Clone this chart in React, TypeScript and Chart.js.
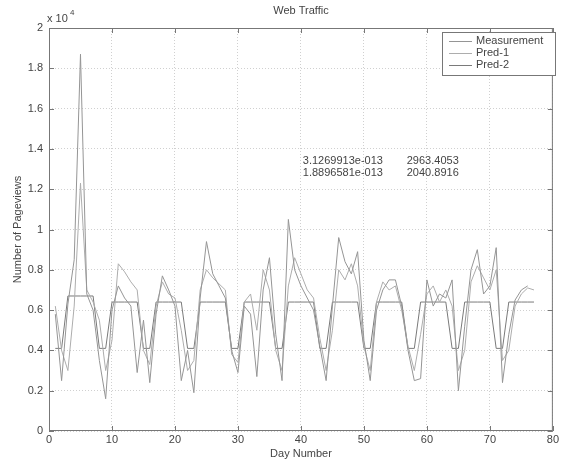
import { useEffect, useRef } from "react";
import { Chart, registerables } from "chart.js";

Chart.register(...registerables);

// ---- data (units of 10^4 page views) ----
const dayNumbers = [
  1, 2, 3, 4, 5, 6, 7, 8, 9, 10, 11, 12, 13, 14, 15, 16, 17, 18, 19, 20,
  21, 22, 23, 24, 25, 26, 27, 28, 29, 30, 31, 32, 33, 34, 35, 36, 37, 38, 39, 40,
  41, 42, 43, 44, 45, 46, 47, 48, 49, 50, 51, 52, 53, 54, 55, 56, 57, 58, 59, 60,
  61, 62, 63, 64, 65, 66, 67, 68, 69, 70, 71, 72, 73, 74, 75, 76, 77,
];

const measurement = [
  0.58, 0.25, 0.63, 0.85, 1.87, 0.68, 0.6, 0.35, 0.16, 0.6,
  0.72, 0.66, 0.62, 0.29, 0.55, 0.24, 0.58, 0.77, 0.7, 0.62,
  0.25, 0.4, 0.19, 0.66, 0.94, 0.78, 0.72, 0.66, 0.4, 0.29,
  0.62, 0.58, 0.27, 0.7, 0.86, 0.48, 0.25, 1.05, 0.8, 0.72,
  0.66, 0.6, 0.42, 0.25, 0.62, 0.96, 0.84, 0.78, 0.89, 0.45,
  0.25, 0.6, 0.7, 0.75, 0.75, 0.62, 0.4, 0.25, 0.26, 0.75,
  0.62, 0.68, 0.66, 0.75, 0.2, 0.52, 0.8, 0.9, 0.68, 0.72,
  0.91, 0.24, 0.48, 0.65, 0.7, 0.72,
];

const pred1 = [
  0.62, 0.4, 0.3, 0.62, 1.23, 0.7, 0.64, 0.55, 0.3, 0.45,
  0.83, 0.79, 0.74, 0.7, 0.4, 0.33, 0.62, 0.74, 0.68, 0.66,
  0.5, 0.3, 0.35, 0.7, 0.8, 0.76, 0.73, 0.7, 0.38, 0.34,
  0.64, 0.68, 0.5, 0.8, 0.7, 0.4, 0.3, 0.72, 0.86, 0.78,
  0.7, 0.66, 0.46, 0.3, 0.5, 0.8, 0.75, 0.83, 0.72, 0.42,
  0.3, 0.64, 0.74, 0.7, 0.72, 0.6, 0.42, 0.3, 0.48, 0.68,
  0.72, 0.64, 0.7, 0.62, 0.3, 0.4, 0.74, 0.82, 0.76, 0.7,
  0.8, 0.35, 0.4, 0.62, 0.68, 0.71, 0.7,
];

const pred2 = [
  0.41, 0.41, 0.67, 0.67, 0.67, 0.67, 0.67, 0.41, 0.41, 0.64,
  0.64, 0.64, 0.64, 0.64, 0.41, 0.41, 0.64, 0.64, 0.64, 0.64,
  0.64, 0.41, 0.41, 0.64, 0.64, 0.64, 0.64, 0.64, 0.41, 0.41,
  0.64, 0.64, 0.64, 0.64, 0.64, 0.41, 0.41, 0.64, 0.64, 0.64,
  0.64, 0.64, 0.41, 0.41, 0.64, 0.64, 0.64, 0.64, 0.64, 0.41,
  0.41, 0.64, 0.64, 0.64, 0.64, 0.64, 0.41, 0.41, 0.64, 0.64,
  0.64, 0.64, 0.64, 0.41, 0.41, 0.64, 0.64, 0.64, 0.64, 0.64,
  0.41, 0.41, 0.64, 0.64, 0.64, 0.64, 0.64,
];

const xTicks = [0, 10, 20, 30, 40, 50, 60, 70, 80];
const yTicks = [0, 0.2, 0.4, 0.6, 0.8, 1, 1.2, 1.4, 1.6, 1.8, 2];
const yTickLabels = ["0", "0.2", "0.4", "0.6", "0.8", "1", "1.2", "1.4", "1.6", "1.8", "2"];

const seriesNames = ["Measurement", "Pred-1", "Pred-2"];
const seriesColors = ["#959595", "#adadad", "#7a7a7a"];

const titleText = "Web Traffic";
const xTitle = "Day Number";
const yTitle = "Number of Pageviews";
const annotationRows = [
  ["3.1269913e-013", "2963.4053"],
  ["1.8896581e-013", "2040.8916"],
];

const FONT = '"Liberation Sans", Arial, sans-serif';
const TEXT = "#444";

const overlay = {
  id: "overlay",
  afterDraw(chart: any) {
    const { ctx, chartArea: a, scales } = chart;
    const xs = scales.x;
    const ys = scales.y;
    ctx.save();
    // frame
    ctx.strokeStyle = "#777";
    ctx.lineWidth = 1;
    ctx.strokeRect(a.left + 0.5, a.top + 0.5, a.right - a.left - 1, a.bottom - a.top - 1);
    // inward ticks
    ctx.beginPath();
    for (const v of xTicks) {
      const px = Math.round(xs.getPixelForValue(v)) + 0.5;
      ctx.moveTo(px, a.bottom);
      ctx.lineTo(px, a.bottom - 5);
      ctx.moveTo(px, a.top);
      ctx.lineTo(px, a.top + 5);
    }
    for (const v of yTicks) {
      const py = Math.round(ys.getPixelForValue(v)) + 0.5;
      ctx.moveTo(a.left, py);
      ctx.lineTo(a.left + 5, py);
      ctx.moveTo(a.right, py);
      ctx.lineTo(a.right - 5, py);
    }
    ctx.stroke();

    // title
    ctx.fillStyle = TEXT;
    ctx.font = `11px ${FONT}`;
    ctx.textAlign = "center";
    ctx.textBaseline = "middle";
    ctx.fillText(titleText, (a.left + a.right) / 2, 11);

    // exponent
    ctx.textAlign = "left";
    ctx.fillText("x 10", a.left - 2, 19);
    ctx.font = `8px ${FONT}`;
    ctx.fillText("4", a.left + 21, 13);

    // annotation text
    ctx.font = `11px ${FONT}`;
    const ax = xs.getPixelForValue(40.3);
    const ax2 = xs.getPixelForValue(56.8);
    annotationRows.forEach((row, i) => {
      const py = ys.getPixelForValue(1.34) + i * 11.5;
      ctx.fillText(row[0], ax, py);
      ctx.fillText(row[1], ax2, py);
    });

    // legend
    const lx = 442, ly = 32, lw = 114, lh = 44;
    ctx.fillStyle = "#fff";
    ctx.fillRect(lx, ly, lw, lh);
    ctx.strokeStyle = "#777";
    ctx.strokeRect(lx + 0.5, ly + 0.5, lw - 1, lh - 1);
    seriesNames.forEach((name, i) => {
      const cy = ly + 9 + i * 12;
      ctx.strokeStyle = seriesColors[i];
      ctx.beginPath();
      ctx.moveTo(449, cy + 0.5);
      ctx.lineTo(472, cy + 0.5);
      ctx.stroke();
      ctx.fillStyle = TEXT;
      ctx.font = `11px ${FONT}`;
      ctx.textAlign = "left";
      ctx.fillText(name, 476, cy);
    });
    ctx.restore();
  },
};

export default function App() {
  const ref = useRef<HTMLCanvasElement | null>(null);
  useEffect(() => {
    if (!ref.current) return;
    const mk = (vals: number[]) => vals.map((v, i) => ({ x: dayNumbers[i], y: v }));
    const chart = new Chart(ref.current, {
      type: "line",
      data: {
        datasets: [
          { label: seriesNames[0], data: mk(measurement), borderColor: seriesColors[0], borderWidth: 1, pointRadius: 0, tension: 0 },
          { label: seriesNames[1], data: mk(pred1), borderColor: seriesColors[1], borderWidth: 1, pointRadius: 0, tension: 0 },
          { label: seriesNames[2], data: mk(pred2), borderColor: seriesColors[2], borderWidth: 1, pointRadius: 0, tension: 0 },
        ],
      },
      options: {
        animation: false,
        responsive: false,
        devicePixelRatio: 1,
        layout: { padding: { top: 28, right: 4, left: 0, bottom: 0 } },
        plugins: { legend: { display: false }, tooltip: { enabled: false }, title: { display: false } },
        scales: {
          x: {
            type: "linear",
            min: 0,
            max: 80,
            afterBuildTicks: (s: any) => { s.ticks = xTicks.map((v) => ({ value: v })); },
            afterFit: (s: any) => { s.height = 30; },
            ticks: { font: { size: 11, family: FONT }, color: TEXT, padding: 2, maxRotation: 0, autoSkip: false },
            grid: { color: "#d0d0d0", drawTicks: false },
            border: { display: false, dash: [1, 2] },
            title: { display: true, text: xTitle, font: { size: 11, family: FONT }, color: TEXT, padding: { top: 0, bottom: 0 } },
          },
          y: {
            type: "linear",
            min: 0,
            max: 2,
            afterBuildTicks: (s: any) => { s.ticks = yTicks.map((v) => ({ value: v })); },
            afterFit: (s: any) => { s.width = 49; },
            ticks: {
              font: { size: 11, family: FONT },
              color: TEXT,
              padding: 6,
              autoSkip: false,
              callback: (v: any) => { const i = yTicks.findIndex((t) => Math.abs(t - Number(v)) < 1e-9); return i >= 0 ? yTickLabels[i] : ""; },
            },
            grid: { color: "#d0d0d0", drawTicks: false },
            border: { display: false, dash: [1, 2] },
            title: { display: true, text: yTitle, font: { size: 11, family: FONT }, color: TEXT, padding: { top: 11, bottom: 0 } },
          },
        },
      },
      plugins: [overlay],
    });
    return () => chart.destroy();
  }, []);
  return (
    <div style={{ position: "fixed", left: 0, top: 0, width: 561, height: 461, background: "#fff" }}>
      <canvas ref={ref} width={561} height={461} />
    </div>
  );
}
